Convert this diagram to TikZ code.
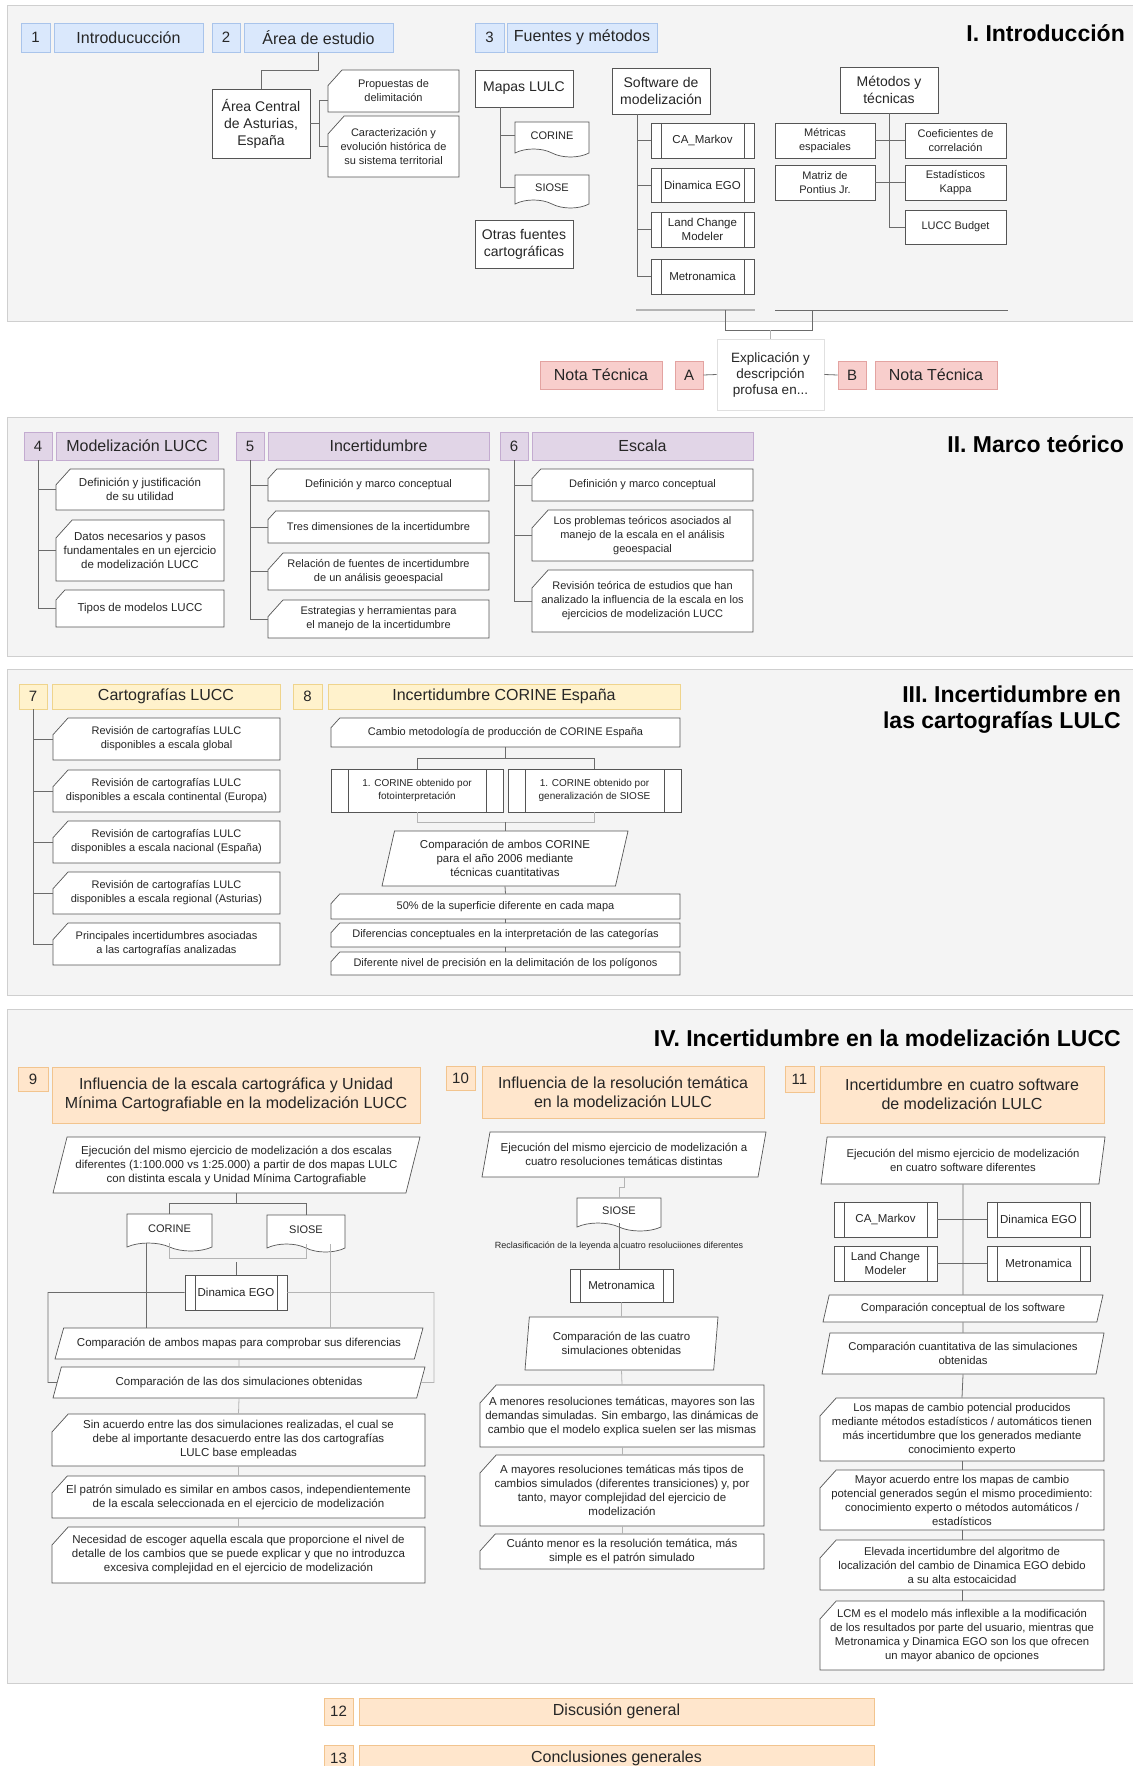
\documentclass[tikz,border=0pt]{standalone}
\usepackage{fontspec}
\setmainfont{Liberation Sans}
\usetikzlibrary{shapes.geometric,shapes.misc,shapes.symbols,positioning}

\definecolor{panelbg}{HTML}{F4F4F4}
\definecolor{panelln}{HTML}{CFCFCF}
\definecolor{bluef}{HTML}{DAE8FC}
\definecolor{bluel}{HTML}{A9C4EB}
\definecolor{lilacf}{HTML}{E1D5E7}
\definecolor{lilacl}{HTML}{C3ABD0}
\definecolor{yellowf}{HTML}{FFF2CC}
\definecolor{yellowl}{HTML}{EFD48C}
\definecolor{orangef}{HTML}{FFE6CC}
\definecolor{orangel}{HTML}{F2C48E}
\definecolor{pinkf}{HTML}{F8CECC}
\definecolor{pinkl}{HTML}{E3A3A1}
\definecolor{boxln}{HTML}{555555}
\definecolor{conn}{HTML}{6B6B6B}
\definecolor{connl}{HTML}{B4B4B4}
\definecolor{txt}{HTML}{262626}

\newcommand\fs[2]{\fontsize{#1}{#2}\selectfont}

\tikzset{
  panel/.style={fill=panelbg, draw=panelln, line width=0.8pt},
  wh/.style 2 args={minimum width=#1pt, minimum height=#2pt},
  nd/.style={inner sep=1pt, align=center, text=txt, line width=0.7pt},
  numb/.style={nd, rectangle, font=\fs{15}{18}},
  hdr/.style={nd, rectangle, font=\fs{16}{19}},
  blueset/.style={fill=bluef, draw=bluel},
  lilacset/.style={fill=lilacf, draw=lilacl},
  yellowset/.style={fill=yellowf, draw=yellowl},
  orangeset/.style={fill=orangef, draw=orangel},
  pinkset/.style={fill=pinkf, draw=pinkl},
  wbox/.style={nd, rectangle, draw=boxln, fill=white, font=\fs{11}{13.5}},
  card/.style={nd, chamfered rectangle, chamfered rectangle corners=north west,
    chamfered rectangle xsep=13pt, chamfered rectangle angle=42, inner xsep=-10pt,
    draw=boxln, fill=white, font=\fs{11}{14}},
  docu/.style={nd, tape, tape bend top=none, tape bend bottom=out and in,
    tape bend height=8pt, draw=boxln, fill=white, font=\fs{11}{13}},
  proc/.style={nd, rectangle, draw=boxln, fill=white, font=\fs{11.5}{14},
    path picture={\draw[boxln, line width=0.7pt]
      ([xshift=#1]path picture bounding box.north west) -- ([xshift=#1]path picture bounding box.south west)
      ([xshift=-#1]path picture bounding box.north east) -- ([xshift=-#1]path picture bounding box.south east);}},
  proc/.default=10pt,
  para/.style={nd, trapezium, trapezium left angle=#1, trapezium right angle={180-#1},
    trapezium stretches body, draw=boxln, fill=white, font=\fs{11.5}{14}},
  ttl/.style={font=\bfseries\fs{23}{26}, text=black, align=right, inner sep=0pt},
  lbl/.style={font=\fs{9}{10}, text=txt, inner sep=0pt},
  link/.style={draw=conn, line width=0.8pt},
  linkl/.style={draw=connl, line width=0.8pt}
}

\begin{document}
\begin{tikzpicture}[x=1pt, y=-1pt]

  \useasboundingbox (0,0) rectangle (1132,1766);
  \fill[white] (0,0) rectangle (1132,1766);

  \draw[panel] (7,5) rectangle (1145,321);
  \draw[panel] (7,417) rectangle (1145,656);
  \draw[panel] (7,669) rectangle (1145,995);
  \draw[panel] (7,1009) rectangle (1145,1683);

  % I. Introduccion
  \node[numb, blueset, wh={29}{29}] (n1) at (35.5,37.5) {1};
  \node[hdr, blueset, wh={149}{29}] (h1) at (128.5,37.5) {Introducucción};
  \node[numb, blueset, wh={28}{29}] (n2) at (226,37.5) {2};
  \node[hdr, blueset, wh={149}{29}] (h2) at (318.5,37.5) {Área de estudio};
  \node[numb, blueset, wh={29}{29}] (n3) at (489.5,37.5) {3};
  \node[hdr, blueset, wh={150}{29}] (h3) at (582,37.5) {Fuentes y métodos};
  \node[ttl, anchor=east] (tI) at (1125,33) {I. Introducción};

  \node[wbox, wh={98}{69}, font=\fs{14}{17}] (area) at (261,123.5) {Área Central\\de Asturias,\\España};
  \node[card, wh={131}{42}] (prop) at (393.5,91) {Propuestas de\\delimitación};
  \node[card, wh={131}{61}] (carac) at (393.5,146.5) {Caracterización y\\evolución histórica de\\su sistema territorial};

  \node[wbox, wh={98}{37}, font=\fs{14}{17}] (mapas) at (524,88.5) {Mapas LULC};
  \node[docu, wh={74}{35}] (corineA) at (552,135.5) {CORINE};
  \node[docu, wh={74}{33}] (sioseA) at (552,187.5) {SIOSE};
  \node[wbox, wh={98}{48}, font=\fs{14}{17}] (otras) at (524,244) {Otras fuentes\\cartográficas};

  \node[wbox, wh={98}{46}, font=\fs{14}{17}] (soft) at (661,91) {Software de\\modelización};
  \node[proc, wh={103}{35}] (camk) at (702.5,140.5) {CA\_Markov};
  \node[proc, wh={103}{34}] (dego) at (702.5,185) {Dinamica EGO};
  \node[proc, wh={103}{35}] (lcm) at (702.5,229.5) {Land Change\\Modeler};
  \node[proc, wh={103}{35}] (metro) at (702.5,276.5) {Metronamica};

  \node[wbox, wh={98}{46}, font=\fs{14}{17}] (meto) at (889,90) {Métodos y\\técnicas};
  \node[wbox, wh={100}{35}] (metr) at (825,140.5) {Métricas\\espaciales};
  \node[wbox, wh={100}{35}] (matr) at (825,182.5) {Matriz de\\Pontius Jr.};
  \node[wbox, wh={101}{35}] (coef) at (955.5,140.5) {Coeficientes de\\correlación};
  \node[wbox, wh={101}{35}] (kappa) at (955.5,182.5) {Estadísticos\\Kappa};
  \node[wbox, wh={101}{34}] (lucc) at (955.5,227) {LUCC Budget};

  \draw[link] (h2.south) -- ++(0,18) -| (area.north);
  \draw[link] (area.east) -- ++(9,0) |- ([yshift=-9pt]prop.west);
  \draw[link] (area.east) -- ++(9,0) |- (carac.west);
  \draw[link] ([xshift=-24pt]mapas.south) |- (corineA.west);
  \draw[link] ([xshift=-24pt]mapas.south) |- (sioseA.west);
  \foreach \s in {camk,dego,lcm,metro}
    \draw[link] ([xshift=-24pt]soft.south) |- (\s.west);
  \draw[link] (meto.south) |- (lucc.west);
  \draw[link] (metr.east) -- (coef.west);
  \draw[link] (matr.east) -- (kappa.west);

  \coordinate (swL) at (636,310);
  \coordinate (swR) at (755,310);
  \coordinate (swJ) at (725,310);
  \coordinate (mtL) at (775,310);
  \coordinate (mtR) at (1008,310);
  \coordinate (mtJ) at (812,310);
  \draw[linkl, line width=1.5pt] (swL) -- (swR);
  \draw[link] (mtL) -- (mtR);
  \draw[link] (swJ) -- ++(0,20) -| (mtJ);

  \node[nd, wh={107}{71}, draw=black!12, fill=white, font=\fs{13.5}{16}] (expl) at (770.5,374.5) {Explicación y\\descripción\\profusa en...};
  \node[hdr, pinkset, wh={122}{28}] (ntA) at (601,375) {Nota Técnica};
  \node[numb, pinkset, wh={28}{28}] (na) at (689,375) {A};
  \node[numb, pinkset, wh={28}{28}] (nb) at (852,375) {B};
  \node[hdr, pinkset, wh={122}{28}] (ntB) at (936,375) {Nota Técnica};
  \draw[linkl] (expl.north) -- ++(0,-9);
  \draw[link] (na.east) -- (expl.west);
  \draw[link] (expl.east) -- (nb.west);

  % II. Marco teorico
  \node[numb, lilacset, wh={28}{28}] (n4) at (38,446) {4};
  \node[hdr, lilacset, wh={162}{28}] (h4) at (137,446) {Modelización LUCC};
  \node[numb, lilacset, wh={28}{28}] (n5) at (250,446) {5};
  \node[hdr, lilacset, wh={221}{28}] (h5) at (378.5,446) {Incertidumbre};
  \node[numb, lilacset, wh={28}{28}] (n6) at (514,446) {6};
  \node[hdr, lilacset, wh={221}{28}] (h6) at (642.5,446) {Escala};
  \node[ttl, anchor=east] (tII) at (1124,444) {II. Marco teórico};

  \node[card, wh={168}{41}, font=\fs{11.5}{14}] (c4a) at (140,489.5) {Definición y justificación\\de su utilidad};
  \node[card, wh={168}{61}, font=\fs{11.5}{14}] (c4b) at (140,550.5) {Datos necesarios y pasos\\fundamentales en un ejercicio\\de modelización LUCC};
  \node[card, wh={168}{37}, font=\fs{11.5}{14}] (c4c) at (140,608.5) {Tipos de modelos LUCC};

  \node[card, wh={221}{32}] (c5a) at (378.5,485) {Definición y marco conceptual};
  \node[card, wh={221}{32}] (c5b) at (378.5,527) {Tres dimensiones de la incertidumbre};
  \node[card, wh={221}{37}] (c5c) at (378.5,571.5) {Relación de fuentes de incertidumbre\\de un análisis geoespacial};
  \node[card, wh={221}{38}] (c5d) at (378.5,619) {Estrategias y herramientas para\\el manejo de la incertidumbre};

  \node[card, wh={221}{32}] (c6a) at (642.5,485) {Definición y marco conceptual};
  \node[card, wh={221}{51}] (c6b) at (642.5,535.5) {Los problemas teóricos asociados al\\manejo de la escala en el análisis\\geoespacial};
  \node[card, wh={221}{62}] (c6c) at (642.5,601) {Revisión teórica de estudios que han\\analizado la influencia de la escala en los\\ejercicios de modelización LUCC};

  \foreach \c in {c4a,c4b,c4c}
    \draw[link] (n4.south) |- (\c.west);
  \foreach \c in {c5a,c5b,c5c,c5d}
    \draw[link] (n5.south) |- (\c.west);
  \foreach \c in {c6a,c6b,c6c}
    \draw[link] (n6.south) |- (\c.west);

  % III. Incertidumbre en las cartografias
  \node[numb, yellowset, wh={28}{25}] (n7) at (33,696.5) {7};
  \node[hdr, yellowset, wh={228}{25}] (h7) at (166,696.5) {Cartografías LUCC};
  \node[numb, yellowset, wh={29}{25}] (n8) at (307.5,696.5) {8};
  \node[hdr, yellowset, wh={352}{25}] (h8) at (504,696.5) {Incertidumbre CORINE España};
  \node[ttl, anchor=east] (tIII) at (1121,710) {III. Incertidumbre en\\las cartografías LULC};

  \begin{scope}[every node/.append style={font=\fs{11.5}{14}}]
    \node[card, wh={227}{42}] (c7a) at (166.5,739) {Revisión de cartografías LULC\\disponibles a escala global};
    \node[card, wh={227}{42}] (c7b) at (166.5,791) {Revisión de cartografías LULC\\disponibles a escala continental (Europa)};
    \node[card, wh={227}{42}] (c7c) at (166.5,842) {Revisión de cartografías LULC\\disponibles a escala nacional (España)};
    \node[card, wh={227}{42}] (c7d) at (166.5,893) {Revisión de cartografías LULC\\disponibles a escala regional (Asturias)};
    \node[card, wh={227}{42}] (c7e) at (166.5,944) {Principales incertidumbres asociadas\\a las cartografías analizadas};
  \end{scope}
  \foreach \c in {c7a,c7b,c7c,c7d,c7e}
    \draw[link] (n7.south) |- (\c.west);

  \begin{scope}[every node/.append style={font=\fs{10.5}{14}}]
    \node[card, wh={349}{29}] (c8a) at (505.5,732.5) {Cambio metodología de producción de CORINE España};
    \node[proc=17pt, wh={172}{43}, font=\fs{10}{13}] (p8a) at (417,790.5) {1. CORINE obtenido por\\fotointerpretación};
    \node[proc=17pt, wh={173}{43}, font=\fs{10}{13}] (p8b) at (594.5,790.5) {1. CORINE obtenido por\\generalización de SIOSE};
    \node[para=72, wh={246}{55}] (q8) at (505,858.5) {Comparación de ambos CORINE\\para el año 2006 mediante\\técnicas cuantitativas};
    \node[card, wh={349}{25}] (c8b) at (505.5,906.5) {50\% de la superficie diferente en cada mapa};
    \node[card, wh={349}{24}] (c8c) at (505.5,935) {Diferencias conceptuales en la interpretación de las categorías};
    \node[card, wh={349}{23}] (c8d) at (505.5,963.5) {Diferente nivel de precisión en la delimitación de los polígonos};
  \end{scope}
  \draw[link] (c8a.south) -- ++(0,11) -| (p8a.north);
  \draw[link] (c8a.south) -- ++(0,11) -| (p8b.north);
  \draw[linkl] (p8a.south) -- ++(0,10) -| (p8b.south);
  \draw[link] (q8.north) -- ++(0,-9);
  \draw[link] (q8.south) -- (c8b.north);
  \draw[link] (c8b.south) -- (c8c.north);
  \draw[link] (c8c.south) -- (c8d.north);

  % IV. Incertidumbre en la modelizacion
  \node[ttl, anchor=east] (tIV) at (1121,1038) {IV. Incertidumbre en la modelización LUCC};
  \node[numb, orangeset, wh={30}{24}] (n9) at (33,1079) {9};
  \node[hdr, orangeset, wh={368}{56}] (h9) at (236,1095) {Influencia de la escala cartográfica y Unidad\\Mínima Cartografiable en la modelización LUCC};
  \node[numb, orangeset, wh={29}{24}] (n10) at (460.5,1078) {10};
  \node[hdr, orangeset, wh={282}{52}] (h10) at (623,1092) {Influencia de la resolución temática\\en la modelización LULC};
  \node[numb, orangeset, wh={29}{26}] (n11) at (799.5,1079) {11};
  \node[hdr, orangeset, wh={284}{57}] (h11) at (962,1094.5) {Incertidumbre en cuatro software\\de modelización LULC};

  \node[para=71, wh={367}{56}] (q9a) at (236.5,1165) {Ejecución del mismo ejercicio de modelización a dos escalas\\diferentes (1:100.000 vs 1:25.000) a partir de dos mapas LULC\\con distinta escala y Unidad Mínima Cartografiable};
  \node[docu, wh={85}{37}] (d9a) at (169.5,1228.5) {CORINE};
  \node[docu, wh={78}{37}] (d9b) at (306,1229.5) {SIOSE};
  \node[proc, wh={102}{35}] (dego9) at (236,1292.5) {Dinamica EGO};
  \node[para=56, wh={368}{31}] (q9b) at (239,1343.5) {Comparación de ambos mapas para comprobar sus diferencias};
  \node[para=57, wh={372}{31}] (q9c) at (239,1382.5) {Comparación de las dos simulaciones obtenidas};
  \node[card, wh={373}{52}, font=\fs{11.5}{14}] (c9a) at (238.5,1440) {Sin acuerdo entre las dos simulaciones realizadas, el cual se\\debe al importante desacuerdo entre las dos cartografías\\LULC base empleadas};
  \node[card, wh={373}{42}, font=\fs{11.5}{14}] (c9b) at (238.5,1497) {El patrón simulado es similar en ambos casos, independientemente\\de la escala seleccionada en el ejercicio de modelización};
  \node[card, wh={373}{56}, font=\fs{11.5}{14}] (c9c) at (238.5,1555) {Necesidad de escoger aquella escala que proporcione el nivel de\\detalle de los cambios que se puede explicar y que no introduzca\\excesiva complejidad en el ejercicio de modelización};

  \coordinate (brL) at (48,1382.5);
  \coordinate (brR) at (434,1382.5);
  \draw[link] (q9a.south) -- ++(0,10) -| (d9a.north);
  \draw[link] (q9a.south) -- ++(0,10) -| (d9b.north);
  \draw[linkl] (d9a.south) -- ++(0,15) -| (d9b.south);
  \draw[link] (dego9.north) -- ++(0,-13);
  \draw[link] ([xshift=-23.5pt]d9a.south) -- ([xshift=-23.5pt]d9a.south |- q9b.north);
  \draw[linkl] ([xshift=24pt]d9b.south) -- ([xshift=24pt]d9b.south |- q9b.north);
  \draw[link] (dego9.west) -| (brL) -- (q9c.west);
  \draw[linkl] (dego9.east) -| (brR) -- (q9c.east);
  \draw[linkl] (q9b.south) -- (q9c.north);
  \draw[linkl] (q9c.south) -- (c9a.north);
  \draw[linkl] (c9a.south) -- (c9b.north);
  \draw[linkl] (c9b.south) -- (c9c.north);

  \node[para=72, wh={284}{45}] (q10a) at (624,1154.5) {Ejecución del mismo ejercicio de modelización a\\cuatro resoluciones temáticas distintas};
  \node[docu, wh={84}{33}] (d10) at (619,1210.5) {SIOSE};
  \node[proc, wh={103}{33}] (m10) at (621.5,1285.5) {Metronamica};
  \node[para=80, wh={193}{53}] (q10b) at (621.5,1343.5) {Comparación de las cuatro\\simulaciones obtenidas};
  \node[card, wh={284}{62}, font=\fs{11.5}{14}] (c10a) at (622,1416) {A menores resoluciones temáticas, mayores son las\\demandas simuladas. Sin embargo, las dinámicas de\\cambio que el modelo explica suelen ser las mismas};
  \node[card, wh={284}{71}, font=\fs{11.5}{14}] (c10b) at (622,1490.5) {A mayores resoluciones temáticas más tipos de\\cambios simulados (diferentes transiciones) y, por\\tanto, mayor complejidad del ejercicio de\\modelización};
  \node[card, wh={284}{35}, font=\fs{11.5}{14}] (c10c) at (622,1551.5) {Cuánto menor es la resolución temática, más\\simple es el patrón simulado};

  \draw[linkl] (q10a.south) -- ++(0,10) -| (d10.north);
  \draw[link] (d10.south) -- node[lbl] {Reclasificación de la leyenda a cuatro resoluciiones diferentes} (d10.south |- m10.north);
  \draw[linkl] (m10.south) -- (q10b.north);
  \draw[linkl] (q10b.south) -- (c10a.north);
  \draw[linkl] (c10a.south) -- (c10b.north);
  \draw[linkl] (c10b.south) -- (c10c.north);

  \node[para=76, wh={284}{47}, font=\fs{11.3}{14}] (q11a) at (963,1160.5) {Ejecución del mismo ejercicio de modelización\\en cuatro software diferentes};
  \node[proc, wh={103}{35}] (p11a) at (885.5,1219.5) {CA\_Markov};
  \node[proc, wh={103}{35}] (p11b) at (1038.5,1219.5) {Dinamica EGO};
  \node[proc, wh={103}{35}] (p11c) at (885.5,1263.5) {Land Change\\Modeler};
  \node[proc, wh={103}{35}] (p11d) at (1038.5,1263.5) {Metronamica};
  \node[para=64, wh={280}{27}, font=\fs{11.3}{14}] (q11b) at (963,1308.5) {Comparación conceptual de los software};
  \node[para=72, wh={282}{41}, font=\fs{11.3}{14}] (q11c) at (963,1353.5) {Comparación cuantitativa de las simulaciones\\obtenidas};
  \node[card, wh={284}{63}, font=\fs{11.3}{14}] (c11a) at (962,1429.5) {Los mapas de cambio potencial producidos\\mediante métodos estadísticos / automáticos tienen\\más incertidumbre que los generados mediante\\conocimiento experto};
  \node[card, wh={284}{60}, font=\fs{11.3}{14}] (c11b) at (962,1500) {Mayor acuerdo entre los mapas de cambio\\potencial generados según el mismo procedimiento:\\conocimiento experto o métodos automáticos /\\estadísticos};
  \node[card, wh={284}{50}, font=\fs{11.3}{14}] (c11c) at (962,1565) {Elevada incertidumbre del algoritmo de\\localización del cambio de Dinamica EGO debido\\a su alta estocaicidad};
  \node[card, wh={284}{69}, font=\fs{11.3}{14}] (c11d) at (962,1635.5) {LCM es el modelo más inflexible a la modificación\\de los resultados por parte del usuario, mientras que\\Metronamica y Dinamica EGO son los que ofrecen\\un mayor abanico de opciones};

  \draw[link] (q11a.south) -- (q11b.north);
  \draw[link] (p11a.east) -- (p11b.west);
  \draw[link] (p11c.east) -- (p11d.west);
  \draw[link] (q11b.south) -- (q11c.north);
  \draw[link] (q11c.south) -- (c11a.north);
  \draw[link] (c11a.south) -- (c11b.north);
  \draw[link] (c11b.south) -- (c11c.north);
  \draw[link] (c11c.south) -- (c11d.north);

  \node[numb, orangeset, wh={29}{27}] (n12) at (338.5,1711.5) {12};
  \node[hdr, orangeset, wh={515}{27}] (h12) at (616.5,1711.5) {Discusión general};
  \node[numb, orangeset, wh={29}{27}] (n13) at (338.5,1758.5) {13};
  \node[hdr, orangeset, wh={515}{27}] (h13) at (616.5,1758.5) {Conclusiones generales};

\end{tikzpicture}
\end{document}
